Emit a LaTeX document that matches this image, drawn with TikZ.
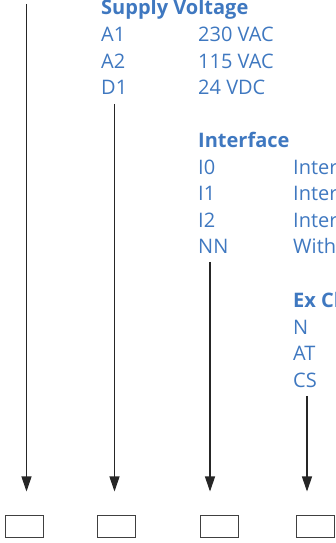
\documentclass[tikz,border=0pt]{standalone}
\usepackage{fontspec}
\setmainfont{Open Sans}
\usetikzlibrary{arrows.meta}
\definecolor{gblue}{HTML}{3F78C0}
\tikzset{
  lbl/.style={anchor=base west, inner sep=0pt, text=gblue, font=\fontsize{20}{24}\selectfont},
  hdr/.style={lbl, font=\fontsize{20}{24}\selectfont\bfseries},
  term/.style={draw=black!75, line width=1pt, minimum width=38pt, minimum height=22pt, inner sep=0pt},
  arr/.style={draw=black!85, line width=1.1pt, -{Triangle[length=15pt,width=10pt]}, shorten >=24pt}
}
\begin{document}
\begin{tikzpicture}[x=1pt,y=1pt]
\useasboundingbox (0,0) rectangle (336,543);
\clip (0,0) rectangle (336,543);
% terminal boxes
\node[term] (b1) at (24,16) {};
\node[term] (b2) at (116,16) {};
\node[term] (b3) at (219,16) {};
\node[term] (b4) at (315,16) {};
% start points
\coordinate (s1) at (26.5,539);
\coordinate (s2) at (114.5,439);
\coordinate (s3) at (210,281);
\coordinate (s4) at (307,147);
\draw[arr] (s1) -- (s1 |- b1.north);
\draw[arr] (s2) -- (s2 |- b2.north);
\draw[arr] (s3) -- (s3 |- b3.north);
\draw[arr] (s4) -- (s4 |- b4.north);
% supply voltage
\node[hdr] (h1) at (101,528) {Supply Voltage};
\node[lbl] (a1) at (101,501) {A1};
\node[lbl] (a2) at (101,474.5) {A2};
\node[lbl] (d1) at (101,448) {D1};
\node[lbl] (va1) at (198,501) {230 VAC};
\node[lbl] (va2) at (198,474.5) {115 VAC};
\node[lbl] (vd1) at (198,448) {24 VDC};
% interface
\node[hdr] (h2) at (198,395) {Interface};
\node[lbl] (i0) at (198,368) {I0};
\node[lbl] (i1) at (198,342) {I1};
\node[lbl] (i2) at (198,315) {I2};
\node[lbl] (nn) at (198,289) {NN};
\node[lbl] (ti0) at (293,368) {Inter};
\node[lbl] (ti1) at (293,342) {Inter};
\node[lbl] (ti2) at (293,315) {Inter};
\node[lbl] (tnn) at (293,289) {With};
% ex
\node[hdr] (h3) at (293,235) {Ex Cl};
\node[lbl] (n) at (293,208) {N};
\node[lbl] (at) at (293,182) {AT};
\node[lbl] (cs) at (293,155) {CS};
\end{tikzpicture}
\end{document}
